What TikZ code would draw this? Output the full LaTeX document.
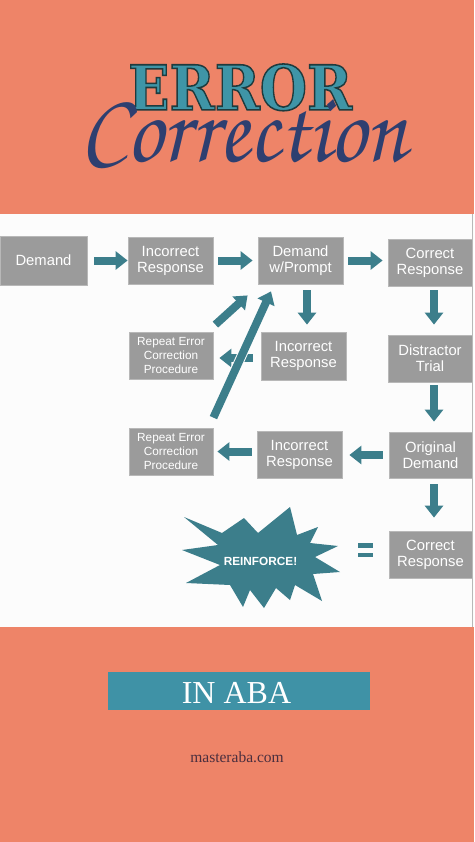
\documentclass[tikz,border=0pt]{standalone}
\usepackage{fontspec}
\setmainfont{Liberation Serif}
\newfontfamily\boxfont{Liberation Sans}
\newfontfamily\errfont{DejaVu Serif}
\newfontfamily\chorus{TeX Gyre Chorus}
\usetikzlibrary{arrows.meta,calc}
\definecolor{bgorange}{HTML}{EE8468}
\definecolor{panel}{HTML}{FCFCFC}
\definecolor{boxgray}{HTML}{9B9B9B}
\definecolor{boxedge}{HTML}{B8B8B8}
\definecolor{arrowc}{HTML}{3C7E8B}
\definecolor{errfill}{HTML}{3F95A7}
\definecolor{errline}{HTML}{1E3B3E}
\definecolor{corrcol}{HTML}{2E3F70}
\definecolor{bannercol}{HTML}{3F92A6}
\definecolor{sitecol}{HTML}{4A2E3E}
\newcommand\outlinedtext[1]{\special{pdf:literal direct 2 Tr 1.6 w 0.118 0.231 0.243 RG}#1\special{pdf:literal direct 0 Tr 0.4 w}}
\tikzset{
  flowbox/.style={fill=boxgray, draw=boxedge, line width=0.8pt, text=white,
    align=center, inner sep=0pt, minimum width=85pt, minimum height=47pt,
    font=\boxfont\fontsize{14.8}{16}\selectfont},
  smallbox/.style={flowbox, font=\boxfont\fontsize{11.8}{14}\selectfont},
  arr/.style={draw=arrowc, line width=8pt, -{Triangle[length=12pt,width=18pt]}},
}
\begin{document}
\begin{tikzpicture}[x=1pt,y=-1pt]
\useasboundingbox (0,0) rectangle (474,842);
\fill[bgorange] (0,0) rectangle (474,842);
\fill[panel] (0,214) rectangle (474,627);
\draw[boxedge, line width=1.5pt] (472.5,214) -- (472.5,627);

% title
\node[anchor=south west, inner sep=0pt] (err) at (128,111)
  {\resizebox{224pt}{46pt}{\textcolor{errfill}{\errfont\bfseries\fontsize{64}{70}\selectfont\outlinedtext{ERROR}}}};
\node[anchor=south west, inner sep=0pt, text=corrcol] (corr) at (80,169)
  {\resizebox{327pt}{62pt}{\chorus\fontsize{100}{110}\selectfont Correction}};

% boxes
\node[flowbox, minimum width=87pt, minimum height=49pt] (dem) at (43.5,260.5) {Demand};
\node[flowbox] (ir1) at (170.5,260.5) {Incorrect\\Response};
\node[flowbox] (dwp) at (300.5,260.5) {Demand\\w/Prompt};
\node[flowbox, minimum width=84pt] (cr1) at (430,262.5) {Correct\\Response};
\node[smallbox, minimum width=84pt] (rep1) at (171,355.5) {Repeat Error\\Correction\\Procedure};
\node[flowbox, minimum height=48pt] (ir2) at (303.5,356) {Incorrect\\Response};
\node[flowbox, minimum width=84pt] (dt) at (430,358.5) {Distractor\\Trial};
\node[smallbox, minimum width=84pt] (rep2) at (171,451.5) {Repeat Error\\Correction\\Procedure};
\node[flowbox] (ir3) at (299.5,454.5) {Incorrect\\Response};
\node[flowbox, minimum width=83pt, minimum height=46pt] (od) at (430.5,455) {Original\\Demand};
\node[flowbox, minimum width=83pt] (cr2) at (430.5,554.5) {Correct\\Response};

% arrows
\draw[arr, shorten <=7pt] (dem.east) -- (ir1.west);
\draw[arr, shorten <=5pt, shorten >=5pt] (ir1.east) -- (dwp.west);
\draw[arr, shorten <=5pt, shorten >=5pt] (dwp.east) -- (cr1.west |- dwp.east);
\draw[arr, shorten <=6pt, shorten >=7pt] ($(dwp.south)+(6.5,0)$) -- ($(ir2.north -| dwp.south)+(6.5,0)$);
\draw[arr, shorten <=4pt, shorten >=10pt] ($(cr1.south)+(4,0)$) -- ($(dt.north)+(4,0)$);
\draw[arr, shorten <=3pt, shorten >=10pt] ($(dt.south)+(4,0)$) -- ($(od.north)+(3.5,0)$);
\draw[arr, shorten <=6pt, shorten >=13pt] ($(od.south)+(3.5,0)$) -- ($(cr2.north)+(3.5,0)$);
\draw[arr, shorten <=6pt, shorten >=7pt] (od.west) -- (ir3.east |- od.west);
\draw[arr, shorten <=5pt, shorten >=4pt] (ir3.west |- rep2.east) -- (rep2.east);
\draw[arr, shorten <=8pt, shorten >=6pt] ($(ir2.west)+(0,2)$) -- ($(rep1.east |- ir2.west)+(0,2)$);
\draw[arr] ([shift={(2,-7)}]rep1.north east) -- ([shift={(-10,11)}]dwp.south west);
\draw[arr, preaction={draw=panel, line width=10pt, -}] ([shift={(0,-10)}]rep2.north east) -- ([shift={(-29.5,7)}]dwp.south);

% reinforce starburst
\fill[arrowc] (184,517) -- (222,533) -- (244,518) -- (258,533) -- (290,507) -- (297,535)
  -- (318,527) -- (310,543) -- (338,546) -- (315,557) -- (340,572) -- (313,574)
  -- (322,601) -- (295,585) -- (290,600) -- (276,588) -- (264,608) -- (250,590)
  -- (243,607) -- (230,585) -- (186,583) -- (220,565) -- (182,550) -- (218,545) -- cycle;
\node[text=white, font=\boxfont\bfseries\fontsize{11.8}{13}\selectfont] (rf) at (260.5,561) {REINFORCE!};
% equals sign
\fill[arrowc] (358,543) rectangle (373,547.5);
\fill[arrowc] (358,552.5) rectangle (373,557);

% banner
\fill[bannercol] (108,672) rectangle (370,710);
\node[anchor=base, text=white, font=\fontsize{32}{36}\selectfont] (aba) at (236.5,703) {IN ABA};
\node[anchor=base, text=sitecol, font=\fontsize{15.5}{18}\selectfont] (site) at (237,762) {masteraba.com};
\end{tikzpicture}
\end{document}
